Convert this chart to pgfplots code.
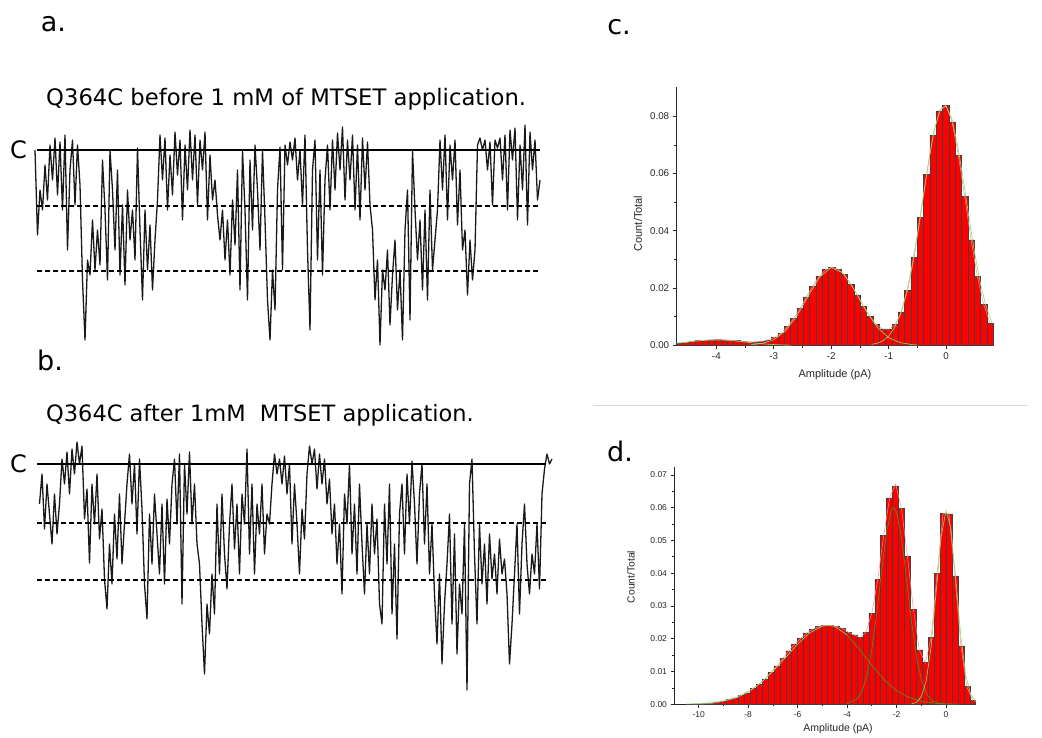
\documentclass[border=0pt]{standalone}
\usepackage{pgfplots}
\pgfplotsset{compat=1.18}
\usepackage{fontspec}
\setmainfont{DejaVu Sans}
\newfontfamily\arialf{Liberation Sans}
\definecolor{gLight}{rgb}{0.55,0.88,0.45}
\definecolor{gDark}{rgb}{0.30,0.60,0.15}
\definecolor{redline}{rgb}{1,0.55,0.55}
\pgfplotsset{
 histo/.style={
  scale only axis,
  axis x line*=bottom, axis y line*=left,
  axis line style={-, line width=0.8pt, black!85},
  tick align=outside,
  major tick length=4pt, minor tick length=2.5pt,
  every tick/.style={black!85, line width=0.7pt},
  /pgf/number format/assume math mode=true,
  yticklabel style={/pgf/number format/.cd, fixed, fixed zerofill, precision=2},
  scaled y ticks=false,
  clip=false,
 },
 trace/.style={scale only axis, hide axis, clip=false},
 bars/.style={ybar, bar shift=0pt, fill=red, draw=black!75, line width=0.5pt},
}
\begin{document}
\begin{tikzpicture}
\path[use as bounding box] (0pt,0pt) rectangle (1042pt,-737pt);

% ---------- labels ----------
\node[font=\fontsize{27}{30}\selectfont, inner sep=0pt] at (53.5pt,-24pt) {a.};
\node[font=\fontsize{27}{30}\selectfont, inner sep=0pt] at (50pt,-360pt) {b.};
\node[font=\fontsize{27}{30}\selectfont, inner sep=0pt] at (619pt,-27pt) {c.};
\node[font=\fontsize{27}{30}\selectfont, inner sep=0pt] at (620pt,-451pt) {d.};
\node[font=\fontsize{22.7}{26}\selectfont, inner sep=0pt, anchor=base west] at (46pt,-105pt) {Q364C before 1 mM of MTSET application.};
\node[font=\fontsize{22.5}{26}\selectfont, inner sep=0pt, anchor=base west] at (46pt,-421pt) {Q364C after 1mM \ MTSET application.};
\node[font=\fontsize{24}{26}\selectfont, inner sep=0pt] at (18.5pt,-150pt) {C};
\node[font=\fontsize{24}{26}\selectfont, inner sep=0pt] at (18.5pt,-464pt) {C};

\draw[black!15, line width=0.8pt] (593pt,-405pt) -- (1028pt,-405pt);

% ---------- trace a ----------
\begin{axis}[trace, at={(35pt,-350pt)}, anchor=south west, width=505pt, height=230pt,
  xmin=0, xmax=505, ymin=-200, ymax=30]
\addplot[black!90, line width=1.3pt, line join=round] coordinates {
(0,0)(2.5,-85)(5,-40)(7.5,-60)(10,-15)(12.5,-50)(15,5)(17.5,-30)(20,12)(22.5,-45)(25,8)(27.5,-60)(30,15)(32.5,-100)(35,-20)(37.5,10)(40,-55)(42.5,5)(45,-35)(47.5,-130)(50,-190)(52.5,-110)(55,-125)(57.5,-70)(60,-120)(62.5,-80)(65,-115)(67.5,-10)(70,-60)(72.5,-130)(75,0)(77.5,-40)(80,-100)(82.5,-20)(85,-125)(87.5,-55)(90,-135)(92.5,-40)(95,-90)(97.5,-60)(100,-110)(102.5,2)(105,-80)(107.5,-150)(110,-60)(112.5,-120)(115,-75)(117.5,-140)(120,-90)(122.5,-50)(125,15)(127.5,-30)(130,12)(132.5,-60)(135,-5)(137.5,-45)(140,18)(142.5,-25)(145,10)(147.5,-70)(150,5)(152.5,-40)(155,20)(157.5,-30)(160,15)(162.5,-55)(165,10)(167.5,-20)(170,18)(172.5,-70)(175,-5)(177.5,-50)(180,-30)(182.5,-65)(185,-90)(187.5,-60)(190,-110)(192.5,-70)(195,-125)(197.5,-50)(200,-95)(202.5,-20)(205,-140)(207.5,0)(210,-60)(212.5,-150)(215,-10)(217.5,-80)(220,5)(222.5,-40)(225,-100)(227.5,0)(230,-70)(232.5,-150)(235,-190)(237.5,-120)(240,-160)(242.5,-40)(245,3)(247.5,-120)(250,5)(252.5,-15)(255,8)(257.5,-10)(260,12)(262.5,-30)(265,0)(267.5,-55)(270,15)(272.5,-100)(275,-180)(277.5,-20)(280,10)(282.5,-110)(285,-20)(287.5,-125)(290,-30)(292.5,5)(295,-60)(297.5,10)(300,-40)(302.5,17)(305,-20)(307.5,23)(310,-50)(312.5,10)(315,-30)(317.5,15)(320,-60)(322.5,5)(325,-70)(327.5,12)(330,-40)(332.5,8)(335,-55)(337.5,-80)(340,-150)(342.5,-110)(345,-195)(347.5,-120)(350,-140)(352.5,-100)(355,-175)(357.5,-125)(360,-90)(362.5,-160)(365,-120)(367.5,-190)(370,-80)(372.5,-40)(375,-170)(377.5,0)(380,-60)(382.5,-110)(385,-70)(387.5,-140)(390,-60)(392.5,-150)(395,-40)(397.5,-120)(400,-90)(402.5,-60)(405,10)(407.5,-40)(410,15)(412.5,-70)(415,5)(417.5,-30)(420,10)(422.5,-75)(425,-20)(427.5,-100)(430,-80)(432.5,-145)(435,-90)(437.5,-130)(440,-100)(442.5,5)(445,12)(447.5,0)(450,10)(452.5,-20)(455,8)(457.5,-55)(460,10)(462.5,2)(465,12)(467.5,-30)(470,15)(472.5,-60)(475,20)(477.5,-10)(480,22)(482.5,-70)(485,5)(487.5,-40)(490,25)(492.5,-75)(495,18)(497.5,-20)(500,10)(502.5,-50)(505,-30)
};
\addplot[black, line width=1.8pt] coordinates {(2,0) (505,0)};
\addplot[black, line width=1.6pt, dash pattern=on 5pt off 3pt] coordinates {(2,-56) (505,-56)};
\addplot[black, line width=1.6pt, dash pattern=on 5pt off 3pt] coordinates {(2,-121) (505,-121)};
\end{axis}

% ---------- trace b ----------
\begin{axis}[trace, at={(37pt,-694pt)}, anchor=south west, width=515pt, height=260pt,
  xmin=0, xmax=515, ymin=-230, ymax=30]
\addplot[black!90, line width=1.3pt, line join=round] coordinates {
(2.5,-40)(5,-10)(7.5,-65)(10,-20)(12.5,-50)(15,-80)(17.5,-30)(20,-70)(22.5,-40)(25,5)(27.5,-20)(30,12)(32.5,-30)(35,15)(37.5,-10)(40,22)(42.5,0)(45,18)(47.5,-55)(50,-25)(52.5,-99)(55,-20)(57.5,-60)(60,-10)(62.5,-75)(65,-45)(67.5,-115)(70,-145)(72.5,-80)(75,-120)(77.5,-50)(80,-95)(82.5,-30)(85,-100)(87.5,-60)(90,-20)(92.5,10)(95,-40)(97.5,0)(100,-70)(102.5,5)(105,-45)(107.5,-120)(110,-155)(112.5,-50)(115,-100)(117.5,-30)(120,-70)(122.5,-110)(125,-40)(127.5,-120)(130,-35)(132.5,-80)(135,-20)(137.5,5)(140,-60)(142.5,10)(145,-140)(147.5,0)(150,-50)(152.5,12)(155,-60)(157.5,-20)(160,-80)(162.5,-100)(165,-160)(167.5,-210)(170,-140)(172.5,-170)(175,-110)(177.5,-150)(180,-40)(182.5,-110)(185,-30)(187.5,-90)(190,-125)(192.5,-60)(195,-20)(197.5,-85)(200,-40)(202.5,-110)(205,-30)(207.5,-60)(210,15)(212.5,-90)(215,-20)(217.5,-110)(220,-40)(222.5,-70)(225,-20)(227.5,-90)(230,-50)(232.5,-60)(235,-20)(237.5,10)(240,-10)(242.5,5)(245,-20)(247.5,8)(250,-30)(252.5,0)(255,-80)(257.5,-20)(260,-60)(262.5,-110)(265,-45)(267.5,-75)(270,-10)(272.5,18)(275,0)(277.5,15)(280,-25)(282.5,10)(285,-20)(287.5,5)(290,-40)(292.5,-15)(295,-70)(297.5,-40)(300,-100)(302.5,-60)(305,-130)(307.5,-30)(310,-60)(312.5,0)(315,-90)(317.5,-40)(320,-110)(322.5,-20)(325,-80)(327.5,-130)(330,-60)(332.5,-110)(335,-40)(337.5,-90)(340,-55)(342.5,-140)(345,-160)(347.5,-40)(350,-100)(352.5,-20)(355,-150)(357.5,-80)(360,-175)(362.5,-50)(365,-20)(367.5,-90)(370,-10)(372.5,-60)(375,3)(377.5,-40)(380,-100)(382.5,-30)(385,0)(387.5,-80)(390,-20)(392.5,-110)(395,-60)(397.5,-130)(400,-180)(402.5,-110)(405,-200)(407.5,-140)(410,-100)(412.5,-50)(415,-160)(417.5,-70)(420,-190)(422.5,-120)(425,-150)(427.5,-60)(430,-226)(432.5,-20)(435,5)(437.5,-90)(440,-160)(442.5,-60)(445,-120)(447.5,-80)(450,-140)(452.5,-70)(455,-115)(457.5,-90)(460,-130)(462.5,-75)(465,-110)(467.5,-95)(470,-130)(472.5,-200)(475,-160)(477.5,-110)(480,-60)(482.5,-150)(485,-80)(487.5,-40)(490,-100)(492.5,-130)(495,-90)(497.5,-110)(500,-60)(502.5,-125)(505,-30)(507.5,-5)(510,10)(512.5,0)(515,5)
};
\addplot[black, line width=1.8pt] coordinates {(0,0) (509,0)};
\addplot[black, line width=1.6pt, dash pattern=on 5pt off 3pt] coordinates {(0,-59) (509,-59)};
\addplot[black, line width=1.6pt, dash pattern=on 5pt off 3pt] coordinates {(0,-116) (509,-116)};
\end{axis}

% ---------- histogram c ----------
\begin{axis}[histo, at={(676.7pt,-345.3pt)}, anchor=south west, width=316.6pt, height=258.3pt,
  xmin=-4.69, xmax=0.82, ymin=0, ymax=0.0902,
  xtick={-4,-3,-2,-1,0}, minor x tick num=1,
  ytick={0,0.02,0.04,0.06,0.08}, minor y tick num=1,
  tick label style={font=\arialf\fontsize{9.8}{10}\selectfont, black!85}]
\addplot[bars, bar width=0.1102] coordinates {
(-4.635,0.0008) (-4.525,0.0010) (-4.415,0.0014) (-4.304,0.0016) (-4.194,0.0018) (-4.084,0.0019) (-3.974,0.0020) (-3.864,0.0019) (-3.754,0.0018) (-3.643,0.0016) (-3.533,0.0014) (-3.423,0.0012) (-3.313,0.0012) (-3.203,0.0014) (-3.093,0.0019) (-2.982,0.0028) (-2.872,0.0042) (-2.762,0.0065) (-2.652,0.0095) (-2.542,0.0129) (-2.432,0.0169) (-2.321,0.0207) (-2.211,0.0240) (-2.101,0.0264) (-1.991,0.0272) (-1.881,0.0266) (-1.771,0.0247) (-1.660,0.0214) (-1.550,0.0176) (-1.440,0.0137) (-1.330,0.0102) (-1.220,0.0073) (-1.110,0.0057) (-0.999,0.0056) (-0.889,0.0072) (-0.779,0.0117) (-0.669,0.0193) (-0.559,0.0306) (-0.449,0.0447) (-0.338,0.0597) (-0.228,0.0734) (-0.118,0.0819) (-0.008,0.0839) (0.102,0.0780) (0.212,0.0664) (0.322,0.0519) (0.433,0.0368) (0.543,0.0240) (0.653,0.0143) (0.763,0.0077)
};
\addplot[redline, line width=0.5pt] coordinates {
(-4.635,0.0008) (-4.525,0.0010) (-4.415,0.0014) (-4.304,0.0016) (-4.194,0.0018) (-4.084,0.0019) (-3.974,0.0020) (-3.864,0.0019) (-3.754,0.0018) (-3.643,0.0016) (-3.533,0.0014) (-3.423,0.0012) (-3.313,0.0012) (-3.203,0.0014) (-3.093,0.0019) (-2.982,0.0028) (-2.872,0.0042) (-2.762,0.0065) (-2.652,0.0095) (-2.542,0.0129) (-2.432,0.0169) (-2.321,0.0207) (-2.211,0.0240) (-2.101,0.0264) (-1.991,0.0272) (-1.881,0.0266) (-1.771,0.0247) (-1.660,0.0214) (-1.550,0.0176) (-1.440,0.0137) (-1.330,0.0102) (-1.220,0.0073) (-1.110,0.0057) (-0.999,0.0056) (-0.889,0.0072) (-0.779,0.0117) (-0.669,0.0193) (-0.559,0.0306) (-0.449,0.0447) (-0.338,0.0597) (-0.228,0.0734) (-0.118,0.0819) (-0.008,0.0839) (0.102,0.0780) (0.212,0.0664) (0.322,0.0519) (0.433,0.0368) (0.543,0.0240) (0.653,0.0143) (0.763,0.0077)
};
\addplot[gLight, line width=0.6pt] coordinates {
(-4.69,0.00073) (-4.5,0.00115) (-4.3,0.00159) (-4.1,0.00186) (-3.9,0.00186) (-3.7,0.00159) (-3.5,0.00115) (-3.3,0.00071) (-3.1,0.00038) (-2.9,0.00017) (-2.7,0.00006)
};
\addplot[gLight, line width=0.6pt] coordinates {
(-3.4,0.00017) (-3.2,0.00065) (-3.0,0.00198) (-2.8,0.00496) (-2.6,0.0102) (-2.4,0.01723) (-2.2,0.02387) (-2.0,0.02714) (-1.8,0.02533) (-1.6,0.0194) (-1.4,0.0122) (-1.2,0.00629) (-1.0,0.00267) (-0.8,0.00093) (-0.6,0.00026) (-0.5,0.0001)
};
\addplot[gLight, line width=0.6pt] coordinates {
(-1.3,0.00031) (-1.2,0.00073) (-1.1,0.00159) (-1.0,0.00323) (-0.9,0.0061) (-0.8,0.01076) (-0.7,0.01771) (-0.6,0.0272) (-0.5,0.039) (-0.4,0.0522) (-0.3,0.0651) (-0.2,0.0758) (-0.1,0.0824) (0,0.0835) (0.1,0.0790) (0.2,0.0698) (0.3,0.0575) (0.4,0.0442) (0.5,0.0317) (0.6,0.0212) (0.7,0.0132) (0.8,0.0077)
};
\end{axis}
\node[font=\arialf\fontsize{11}{12}\selectfont, rotate=90, black!85] at (638pt,-223.5pt) {Count/Total};
\node[font=\arialf\fontsize{11}{12}\selectfont, black!85] at (835pt,-375pt) {Amplitude (pA)};

% ---------- histogram d ----------
\begin{axis}[histo, at={(674pt,-704.3pt)}, anchor=south west, width=301.7pt, height=237.6pt,
  xmin=-11, xmax=1.2, ymin=0, ymax=0.0725,
  xtick={-10,-8,-6,-4,-2,0}, minor x tick num=1,
  ytick={0,0.01,0.02,0.03,0.04,0.05,0.06,0.07}, minor y tick num=1,
  major tick length=3.5pt, minor tick length=2pt,
  tick label style={font=\arialf\fontsize{8.5}{9}\selectfont, black!85}]
\addplot[bars, bar width=0.24] coordinates {
(-10.20,0.0001) (-9.96,0.0001) (-9.72,0.0002) (-9.48,0.0003) (-9.24,0.0005) (-9.00,0.0009) (-8.76,0.0014) (-8.52,0.0018) (-8.28,0.0027) (-8.04,0.0035) (-7.80,0.0048) (-7.56,0.0061) (-7.32,0.0077) (-7.08,0.0097) (-6.84,0.0117) (-6.60,0.0140) (-6.36,0.0163) (-6.12,0.0184) (-5.88,0.0201) (-5.64,0.0217) (-5.40,0.0229) (-5.16,0.0237) (-4.92,0.0241) (-4.68,0.0241) (-4.44,0.0238) (-4.20,0.0232) (-3.96,0.0220) (-3.72,0.0212) (-3.48,0.0204) (-3.24,0.0220) (-3.00,0.0278) (-2.76,0.0381) (-2.52,0.0516) (-2.28,0.0630) (-2.04,0.0666) (-1.80,0.0597) (-1.56,0.0452) (-1.32,0.0290) (-1.08,0.0166) (-0.84,0.0127) (-0.60,0.0204) (-0.36,0.0400) (-0.12,0.0583) (0.12,0.0581) (0.36,0.0392) (0.60,0.0178) (0.84,0.0054) (1.08,0.0011)
};
\addplot[redline, line width=0.5pt] coordinates {
(-10.20,0.0001) (-9.96,0.0001) (-9.72,0.0002) (-9.48,0.0003) (-9.24,0.0005) (-9.00,0.0009) (-8.76,0.0014) (-8.52,0.0018) (-8.28,0.0027) (-8.04,0.0035) (-7.80,0.0048) (-7.56,0.0061) (-7.32,0.0077) (-7.08,0.0097) (-6.84,0.0117) (-6.60,0.0140) (-6.36,0.0163) (-6.12,0.0184) (-5.88,0.0201) (-5.64,0.0217) (-5.40,0.0229) (-5.16,0.0237) (-4.92,0.0241) (-4.68,0.0241) (-4.44,0.0238) (-4.20,0.0232) (-3.96,0.0220) (-3.72,0.0212) (-3.48,0.0204) (-3.24,0.0220) (-3.00,0.0278) (-2.76,0.0381) (-2.52,0.0516) (-2.28,0.0630) (-2.04,0.0672) (-1.80,0.0597) (-1.56,0.0452) (-1.32,0.0290) (-1.08,0.0166) (-0.84,0.0127) (-0.60,0.0204) (-0.36,0.0400) (-0.12,0.0583) (0.12,0.0581) (0.36,0.0392) (0.60,0.0178) (0.84,0.0054) (1.08,0.0011)
};
\addplot[gLight, line width=0.6pt] coordinates {
(-10.5,0.00008) (-10,0.00021) (-9.5,0.00049) (-9,0.00106) (-8.5,0.00212) (-8,0.00388) (-7.5,0.00651) (-7,0.01004) (-6.5,0.01419) (-6,0.01839) (-5.5,0.02187) (-5,0.02384) (-4.75,0.0241) (-4.5,0.02375) (-4,0.02117)
};
\addplot[gDark, line width=0.6pt] coordinates {
(-4,0.02117) (-3.5,0.01679) (-3,0.01186) (-2.5,0.00747) (-2,0.00419) (-1.5,0.00209) (-1,0.00093) (-0.5,0.00037) (0,0.00013) (0.5,0.00004)
};
\addplot[gDark, line width=0.6pt] coordinates {
(-4,0.00017) (-3.6,0.00161) (-3.4,0.00401) (-3.2,0.00874) (-3.0,0.01671) (-2.8,0.02799) (-2.6,0.04107) (-2.4,0.0528) (-2.2,0.05947) (-2.12,0.0601) (-2.0,0.05869) (-1.8,0.05075) (-1.6,0.03844) (-1.4,0.02551) (-1.2,0.01483) (-1.0,0.00756) (-0.8,0.00337) (-0.6,0.00132) (-0.3,0.00025) (0,0.00004)
};
\addplot[gLight, line width=0.6pt] coordinates {
(-1.4,0.00011) (-1.2,0.00057) (-1.0,0.0023) (-0.8,0.00725) (-0.6,0.01786) (-0.4,0.03418) (-0.2,0.05098) (0,0.0592) (0.2,0.05358) (0.4,0.03777) (0.6,0.02073) (0.8,0.00886) (1.0,0.00295) (1.2,0.00076)
};
\end{axis}
\node[font=\arialf\fontsize{10.3}{11}\selectfont, rotate=90, black!85] at (631pt,-577pt) {Count/Total};
\node[font=\arialf\fontsize{10.5}{11}\selectfont, black!85] at (838pt,-729pt) {Amplitude (pA)};
\end{tikzpicture}
\end{document}
